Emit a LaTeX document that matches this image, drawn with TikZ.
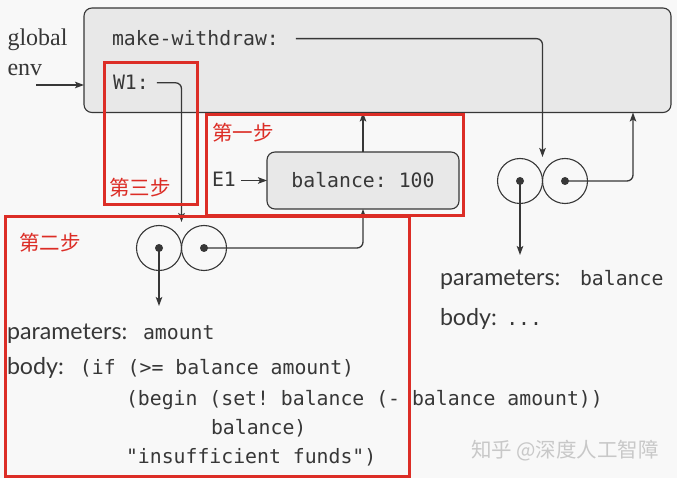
\documentclass[tikz,border=0pt]{standalone}
\usepackage{fontspec}
\setmainfont{Liberation Serif}
\setsansfont{Lato}
\setmonofont{DejaVu Sans Mono}
\newfontfamily\cjkfont{Noto Sans CJK SC}
\usetikzlibrary{arrows.meta,calc}
\definecolor{bgc}{RGB}{248,248,248}
\definecolor{boxc}{RGB}{232,232,232}
\definecolor{linec}{RGB}{55,55,55}
\definecolor{redc}{RGB}{220,45,38}
\definecolor{wmc}{RGB}{200,200,200}
\newcommand\monotext[1]{{\fontsize{19.8}{24}\selectfont\ttfamily #1}}
\begin{document}
\begin{tikzpicture}[x=1pt,y=-1pt,
  every node/.style={inner sep=0pt, outer sep=0pt},
  txt/.style={anchor=base west, text=linec},
  mono/.style={txt, font=\fontsize{19.8}{24}\selectfont\ttfamily},
  sans/.style={txt, font=\fontsize{23.2}{27}\selectfont\sffamily},
  serif/.style={txt, font=\fontsize{24}{28}\selectfont\rmfamily},
  envbox/.style={draw=linec, line width=1.1pt, fill=boxc, rounded corners=8pt},
  arr/.style={draw=linec, line width=1.3pt, -{Stealth[length=9pt,width=6.5pt,inset=2pt]}},
  conn/.style={arr, rounded corners=6pt},
  cell/.style={circle, draw=linec, line width=1.1pt, minimum size=45pt},
  dot/.style={circle, fill=linec, minimum size=8pt},
  stepbox/.style={draw=redc, line width=3pt},
  steplabel/.style={anchor=west, text=redc, font=\fontsize{20.5}{24}\selectfont\cjkfont},
]
\fill[bgc] (0,0) rectangle (677,478);
\useasboundingbox (0,0) rectangle (677,478);

% global environment
\node[envbox, minimum width=587pt, minimum height=104.5pt] (genv) at (377.5,60.25) {};
\node[serif] (g1) at (7.5,46) {global};
\node[serif] (g2) at (7.5,76) {env};
\node[mono] (mw) at (112,46) {make-withdraw:};
\node[mono] (w1) at (113,90) {W1:};

% E1
\node[envbox, minimum width=192pt, minimum height=57pt, font=\fontsize{19.8}{24}\selectfont\ttfamily, text=linec] (bal) at (363,180.5) {balance: 100};
\node[mono] (e1) at (212,187) {E1};

% procedure objects
\node[cell] (c1l) at (520,181) {};
\node[cell] (c1r) at (565,181) {};
\node[dot] (d1l) at (c1l) {};
\node[dot] (d1r) at (c1r) {};
\node[cell] (c2l) at (159,248) {};
\node[cell] (c2r) at (204,248) {};
\node[dot] (d2l) at (c2l) {};
\node[dot] (d2r) at (c2r) {};

\node[sans] (pb) at (440,286) {\makebox[140pt][l]{parameters:}\monotext{balance}};
\node[sans] (bb) at (440,325) {\makebox[66.3pt][l]{body:}\monotext{...}};
\node[sans] (pa) at (7,339) {\makebox[136pt][l]{parameters:}\monotext{amount}};
\node[sans] (ba) at (7,374) {\makebox[73pt][l]{body:}\monotext{(if (>= balance amount)}};
\node[mono] (l3) at (126,405.7) {(begin (set! balance (- balance amount))};
\node[mono] (l4) at (211,434) {balance)};
\node[mono] (l5) at (126,463) {"insufficient funds")};

% connectors
\coordinate (gin) at (36,85);
\coordinate (t1) at (520,255);
\coordinate (t2) at (159,306);
\draw[arr] (gin) -- (gin -| genv.west);
\draw[conn] ([xshift=17pt]mw.east) -| ([yshift=24pt]c1l.east);
\draw[conn] ([xshift=8pt]w1.east) -| ([yshift=26pt]c2l.east);
\draw[conn] (d1r.center) -| ($(genv.south -| d1r)+(68,0)$);
\draw[arr] (bal.north) -- (bal.north |- genv.south);
\draw[conn] (d2r.center) -| (bal.south);
\draw[arr] ($(e1.east |- bal.west)+(5,0)$) -- (bal.west);
\draw[arr] (d1l.center) -- (t1);
\draw[arr] (d2l.center) -- (t2);

% step boxes
\draw[stepbox] (104,63) rectangle (197,205);
\draw[stepbox] (206,115) rectangle (463,216);
\draw[stepbox] (5,217) rectangle (409,476);
\node[steplabel] (s3) at (109,188) {第三步};
\node[steplabel] (s1) at (212,132.5) {第一步};
\node[steplabel] (s2) at (19,243) {第二步};

% watermark
\node[anchor=west, text=wmc, font=\fontsize{20.5}{24}\selectfont\cjkfont] (wm) at (471,451) {知乎 @深度人工智障};
\end{tikzpicture}
\end{document}
